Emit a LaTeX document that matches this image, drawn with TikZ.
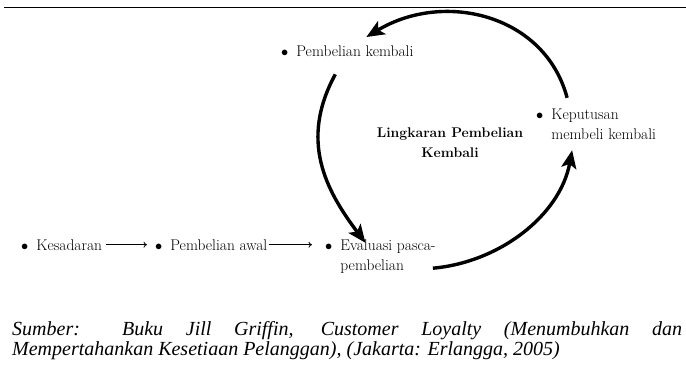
\documentclass[tikz,border=0pt]{standalone}
\usepackage{fontspec}
\newfontfamily\srcfont{Liberation Serif}
\usepackage{tikz}
\usetikzlibrary{arrows.meta}
\tikzset{
  item/.style={anchor=base west,inner sep=0pt,font=\fontsize{15.5}{20}\selectfont},
  seqarrow/.style={-{To[length=3.5pt,width=6pt]},line width=0.8pt},
  cycarrow/.style={-{Stealth[length=18pt,width=15pt,inset=4pt]},line width=3.4pt},
  source/.style={anchor=base west,inner sep=0pt,font=\srcfont\itshape\fontsize{20}{20}\selectfont}
}
\newcommand{\itembullet}{$\bullet$\hspace{8pt}}

\begin{document}
\begin{tikzpicture}[x=1pt,y=-1pt]
\useasboundingbox (0,0) rectangle (686,365);
\draw[line width=1.2pt] (4,7.5) -- (686,7.5);

\node[item] (kes) at (21,250) {\itembullet Kesadaran};
\node[item] (awal) at (155,250) {\itembullet Pembelian awal};
\node[item] (eval) at (325,250) {\itembullet\begin{tabular}[t]{@{}l@{}}Evaluasi pasca-\\pembelian\end{tabular}};
\node[item] (ulang) at (281,56) {\itembullet Pembelian kembali};
\node[item] (putus) at (536,119) {\itembullet\begin{tabular}[t]{@{}l@{}}Keputusan\\membeli kembali\end{tabular}};
\node[font=\fontsize{14}{20}\selectfont\bfseries,align=center,inner sep=0pt] (siklus) at (450,143) {Lingkaran Pembelian\\Kembali};

\draw[seqarrow,shorten <=4pt,shorten >=8pt] (kes.east) -- (awal.west);
\draw[seqarrow,shorten <=1pt,shorten >=13pt] (awal.east) -- (awal.east -| eval.west);

\draw[cycarrow] ([shift={(-29,-7)}]putus.north) .. controls +(-22,-83) and +(78,-47) .. ([shift={(19,-8)}]ulang.north);
\draw[cycarrow] ([shift={(-12,18)}]ulang.south) .. controls +(-36,66) and +(-40,-53) .. ([shift={(-15,7)}]eval.north);
\draw[cycarrow] ([shift={(-3,-8)}]eval.south east) .. controls +(67,-6) and +(-12,65) .. ([shift={(-24,5)}]putus.south);

\node[source] (src1) at (12,335) {\makebox[670pt][s]{Sumber: Buku Jill Griffin, Customer Loyalty (Menumbuhkan dan}};
\node[source] (src2) at (12,355) {Mempertahankan Kesetiaan Pelanggan), (Jakarta: Erlangga, 2005)};
\end{tikzpicture}
\end{document}
